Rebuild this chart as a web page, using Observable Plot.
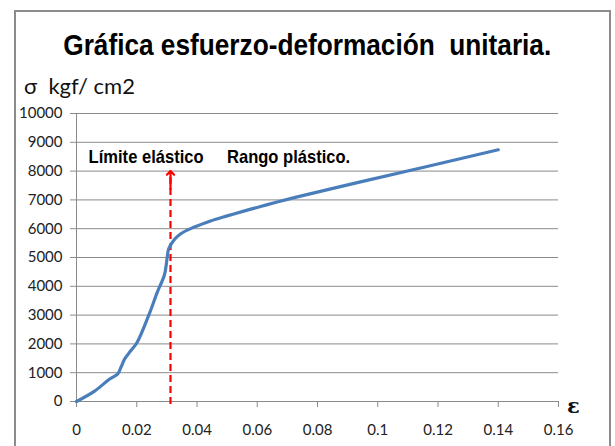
<!DOCTYPE html>
<html>
<head>
<meta charset="utf-8">
<script src="https://cdn.jsdelivr.net/npm/d3@7"></script>
<script src="https://cdn.jsdelivr.net/npm/@observablehq/plot@0.6"></script>
<style>
  html, body { margin: 0; padding: 0; background: #fff; }
  #wrap { position: relative; width: 615px; height: 446px; overflow: hidden; background: #fff; }
  #frame { position: absolute; left: 14px; top: 10px; width: 597px; height: 460px; border: 2px solid #8c8c8c; box-sizing: border-box; }
  #title { position: absolute; left: 0; width: 615px; top: 30px; text-align: center; line-height: 30px; white-space: nowrap; }
  #title span { display: inline-block; font-family: "Liberation Sans", Arial, sans-serif; font-weight: bold; font-size: 30px; color: #000; transform-origin: 50% 50%; }
  #ylab { position: absolute; left: 24px; top: 72px; font-family: Lato, "Open Sans", sans-serif; font-size: 22px; color: #111; white-space: nowrap; }
  #eps { position: absolute; left: 567px; top: 393px; font-family: "DejaVu Serif", "Liberation Serif", serif; font-weight: bold; font-size: 21px; color: #111; }
  #chart { position: absolute; left: 0; top: 0; }
</style>
</head>
<body>
<div id="wrap">
  <div id="frame"></div>
  <div id="chart"></div>
  <div id="title"><span id="titleText">Gráfica esfuerzo-deformación&nbsp; unitaria.</span></div>
  <div id="ylab">σ&nbsp; kgf/ cm2</div>
  <div id="eps">ε</div>
</div>
<script>
// Strain (ε) values
const strain = [0, 0.006, 0.011, 0.0137, 0.0148, 0.0160, 0.0180, 0.0201, 0.0240, 0.0268, 0.0292, 0.0301, 0.0306, 0.0323, 0.0345, 0.0389, 0.0445, 0.050, 0.0555, 0.0611, 0.0666, 0.0733, 0.0932, 0.1153, 0.140];
// Stress (σ, kgf/cm2) values
const stress = [0, 360, 780, 960, 1200, 1480, 1760, 2050, 3000, 3790, 4400, 5000, 5300, 5600, 5818, 6048, 6270, 6445, 6610, 6770, 6925, 7105, 7600, 8134, 8740];

const xTicks = [0, 0.02, 0.04, 0.06, 0.08, 0.1, 0.12, 0.14, 0.16];
const xTickLabels = ["0", "0.02", "0.04", "0.06", "0.08", "0.1", "0.12", "0.14", "0.16"];
const yTicks = [0, 1000, 2000, 3000, 4000, 5000, 6000, 7000, 8000, 9000, 10000];

// Elastic limit marker
const elasticLimit = [{x: 0.0312, y0: 0, yTop: 8000}];
const notes = [
  {x: 0.0231, y: 8470, text: "Límite elástico"},
  {x: 0.0704, y: 8470, text: "Rango plástico."}
];

const data = strain.map((s, i) => ({strain: s, stress: stress[i]}));
const xLabel = new Map(xTicks.map((t, i) => [t, xTickLabels[i]]));

const chart = Plot.plot({
  width: 615,
  height: 446,
  marginLeft: 76,
  marginRight: 57,
  marginTop: 113,
  marginBottom: 45,
  style: {fontFamily: "Lato, 'Open Sans', sans-serif", fontSize: "15px", color: "#222", background: "transparent", overflow: "visible"},
  x: {domain: [0, 0.16]},
  y: {domain: [0, 10000]},
  marks: [
    Plot.ruleY(yTicks, {x1: 0, x2: 0.16, stroke: "#8a8a8a", strokeWidth: 1}),
    Plot.ruleX([0], {y1: 0, y2: 10000, stroke: "#8a8a8a", strokeWidth: 1}),
    Plot.axisY({ticks: yTicks, tickSize: 6, tickPadding: 8, tickFormat: d => String(d), stroke: "#8a8a8a", strokeOpacity: 1, fill: "#222", label: null, fontSize: 15}),
    Plot.axisX({ticks: xTicks, tickSize: 6, tickPadding: 17, tickFormat: d => xLabel.get(d), stroke: "#8a8a8a", strokeOpacity: 1, fill: "#222", label: null, fontSize: 15}),
    Plot.ruleX(elasticLimit, {x: "x", y1: "y0", y2: "yTop", stroke: "#ff0000", strokeWidth: 2.2, strokeDasharray: "7,4", insetTop: 3}),
    Plot.vector(elasticLimit, {x: "x", y: "yTop", length: 18, rotate: 0, anchor: "end", shape: "arrow", stroke: "#ff0000", strokeWidth: 2.2}),
    Plot.line(data, {x: "strain", y: "stress", curve: "catmull-rom", stroke: "#4a7ebb", strokeWidth: 3.2}),
    Plot.text(notes, {x: "x", y: "y", text: "text", className: "notes", fontFamily: "'Liberation Sans', Arial, sans-serif", fontWeight: "bold", fontSize: 18, fill: "#000"})
  ]
});
document.getElementById("chart").appendChild(chart);

// Narrow (condensed) look for the bold labels
chart.querySelectorAll("g.notes text").forEach(t => {
  const tr = t.getAttribute("transform") || "";
  t.setAttribute("transform", tr + " scale(0.92,1)");
});
const tt = document.getElementById("titleText");
const w = tt.getBoundingClientRect().width;
tt.style.transform = `scaleX(${488 / w})`;
</script>
</body>
</html>
